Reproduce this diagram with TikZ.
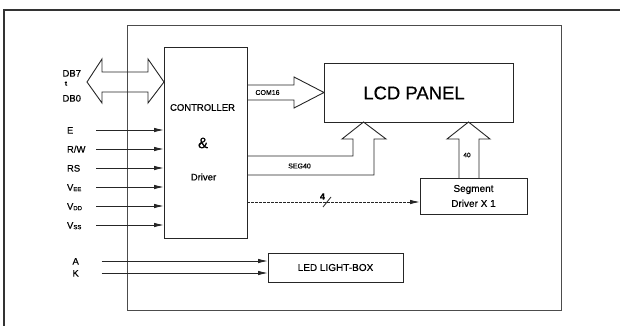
\documentclass[tikz,border=0pt]{standalone}
\usepackage{fontspec}
\setmainfont{Liberation Sans}[FakeBold=0.5]
\usetikzlibrary{arrows.meta}

\newcommand{\vsub}[1]{V\raisebox{-0.6pt}{\fontsize{6}{6}\selectfont #1}}

\begin{document}
\begin{tikzpicture}[x=1pt,y=-1pt,
  every node/.style={inner sep=0pt, outer sep=0pt, font=\fontsize{9.5}{11}\selectfont},
  blk/.style={draw=black!85, line width=0.9pt},
  sig/.style={draw=black!85, line width=0.9pt, -{Latex[length=10pt,width=4.5pt]}},
  bus/.style={draw=black!85, line width=0.9pt, line join=miter}]

\useasboundingbox (0,0) rectangle (620,326);
\draw[black!80,line width=2pt] (4,326) -- (4,10) -- (620,10);

\node[draw=black!70,line width=1pt,minimum width=434pt,minimum height=284pt] (lcm) at (344,168) {};

\node[blk,minimum width=83pt,minimum height=191pt] (ctrl) at (205.5,142.5) {};
\node (ctrlA) at (202.5,107.5) {CONTROLLER};
\node[font=\fontsize{15}{15}\selectfont] (ctrlB) at (203,143) {\&};
\node (ctrlC) at (203.5,177) {Driver};

\node[blk,minimum width=189pt,minimum height=59pt] (lcd) at (418.5,92.5) {};
\node[font=\fontsize{18.5}{20}\selectfont] (lcdT) at (414,93) {LCD PANEL};

\node[blk,minimum width=107pt,minimum height=36pt,align=center,font=\fontsize{10}{15}\selectfont] (seg) at (473.5,196) {Segment\\ Driver X 1};
\node[blk,minimum width=135pt,minimum height=29pt,font=\fontsize{10}{12}\selectfont] (led) at (335.5,267.5) {LED LIGHT-BOX};

\draw[bus] (87,82) -- (102,59) -- (102,72) -- (148,72) -- (148,59) -- (ctrl.west |- 0,82)
  -- (148,103) -- (148,92) -- (102,92) -- (102,103) -- cycle;
\node[anchor=base west] (db7) at (62.5,76.6) {DB7};
\node[font=\fontsize{6.5}{6.5}\selectfont\bfseries] (dbt) at (66,83.5) {t};
\node[anchor=base west] (db0) at (62.5,101.6) {DB0};

\foreach \yy/\txt/\nm in {130/E/e,149/{R/W}/rw,168/RS/rs,187/{\vsub{EE}}/vee,206/{\vsub{DD}}/vdd,225/{\vsub{SS}}/vss}{
  \node[anchor=base west] (l\nm) at (67,\yy+3.6) {\txt};
  \coordinate (s\nm) at (96,\yy);
  \draw[sig] (s\nm) -- (s\nm -| ctrl.west);
}

\foreach \yy/\txt/\nm in {261/A/a,273/K/k}{
  \node[anchor=base west] (l\nm) at (72.5,\yy+3.6) {\txt};
  \coordinate (s\nm) at (101.5,\yy);
  \draw[sig] (s\nm) -- (s\nm -| led.west);
}

\draw[bus] (ctrl.east |- 0,85) -- (294,85) -- (294,77) -- (lcd.west |- 0,92.5) -- (294,108) -- (294,100) -- (ctrl.east |- 0,100);
\node[font=\fontsize{7}{8}\selectfont] (com) at (267.5,92.5) {COM16};

\draw[bus] (ctrl.east |- 0,156) -- (353,156) -- (353,139) -- (342,139) -- (lcd.south -| 363.5,0) -- (386,139) -- (374,139) -- (374,175) -- (ctrl.east |- 0,175);
\node[font=\fontsize{7}{8}\selectfont] (segl) at (299.5,166) {SEG40};

\draw[bus] (seg.north -| 459,0) -- (459,139) -- (447,139) -- (lcd.south -| 468.5,0) -- (490,139) -- (479,139) -- (seg.north -| 479,0);
\node[font=\fontsize{6.5}{7}\selectfont] (forty) at (467,155) {40};

\coordinate (c4) at (ctrl.east |- 0,202);
\draw[sig,dash pattern=on 3pt off 1pt] (c4) -- (c4 -| seg.west);
\draw[black!85,line width=0.8pt] (323,207) -- (331,197);
\node[font=\fontsize{9}{10}\selectfont\bfseries] (four) at (322.5,196.5) {4};
\end{tikzpicture}
\end{document}
